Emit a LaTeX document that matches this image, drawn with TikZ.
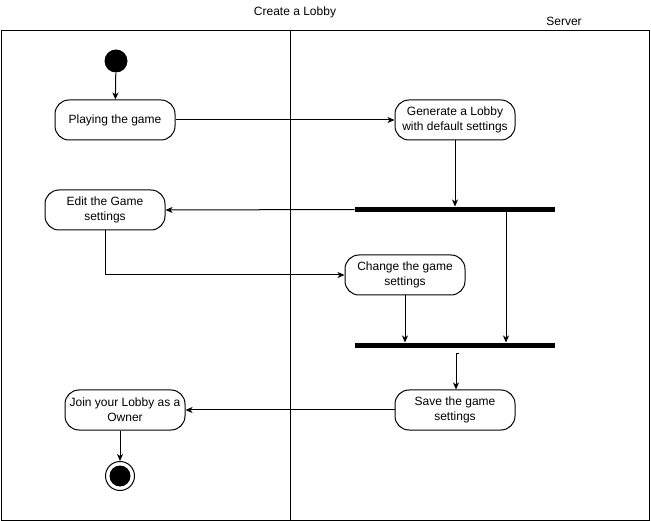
\documentclass[tikz,border=0pt]{standalone}
\usepackage{fontspec}
\setmainfont{Liberation Sans}
\usetikzlibrary{arrows.meta}
\begin{document}
\begin{tikzpicture}[x=1pt,y=-1pt,
  font=\fontsize{12}{15}\selectfont,
  line width=1pt,
  act/.style={draw, rounded corners=14pt, minimum width=120, minimum height=40,
    inner sep=2pt, align=center},
  bar/.style={fill=black, minimum width=200, minimum height=5, inner sep=0pt},
  arr/.style={-{Stealth[length=7pt,width=6pt,inset=2pt]}}]
\useasboundingbox (0,0) rectangle (651,521);

% swimlane frame
\draw (1,31) rectangle (649,520);
\draw (290,31) -- (290,520);
\node (title) at (295,12) {Create a Lobby};
\node (lane) at (564,21) {Server};

% activities
\node[circle, fill, minimum size=23, inner sep=0pt] (start) at (116,61) {};
\node[act] (play) at (115,120) {Playing the game};
\node[act] (gen) at (455,120) {Generate a Lobby\\with default settings};
\node[bar] (fork) at (455,209.5) {};
\node[act] (edit) at (105,210) {Edit the Game\\settings};
\node[act] (change) at (405,275) {Change the game\\settings};
\node[bar] (join) at (455,345.5) {};
\node[act] (save) at (455,410) {Save the game\\settings};
\node[act] (joinl) at (125,410) {Join your Lobby as a\\Owner};
\node[circle, draw, fill=white, minimum size=29, inner sep=0pt] (end) at (120,476) {};
\node[circle, fill, minimum size=21, inner sep=0pt] (endcore) at (end) {};

% flows
\draw[arr] (start) -- (play);
\draw[arr] (play.east) -- (gen.west);
\draw[arr] (gen.south) -- (fork.north);
\draw[arr] (fork.west) -- (edit.east);
\draw[arr] ([xshift=51pt]fork.south) -- ([xshift=51pt]join.north);
\draw[arr] (edit.south) |- (change.west);
\draw[arr] (change.south) -- (change.south |- join.north);
\draw[arr] ([shift={(4,5)}]join.south) -- ([shift={(1,5)}]join.south) -- ([xshift=1pt]save.north);
\draw[arr] (save.west) -- (joinl.east);
\draw[arr] ([xshift=-5pt]joinl.south) -- (end);
\end{tikzpicture}
\end{document}
